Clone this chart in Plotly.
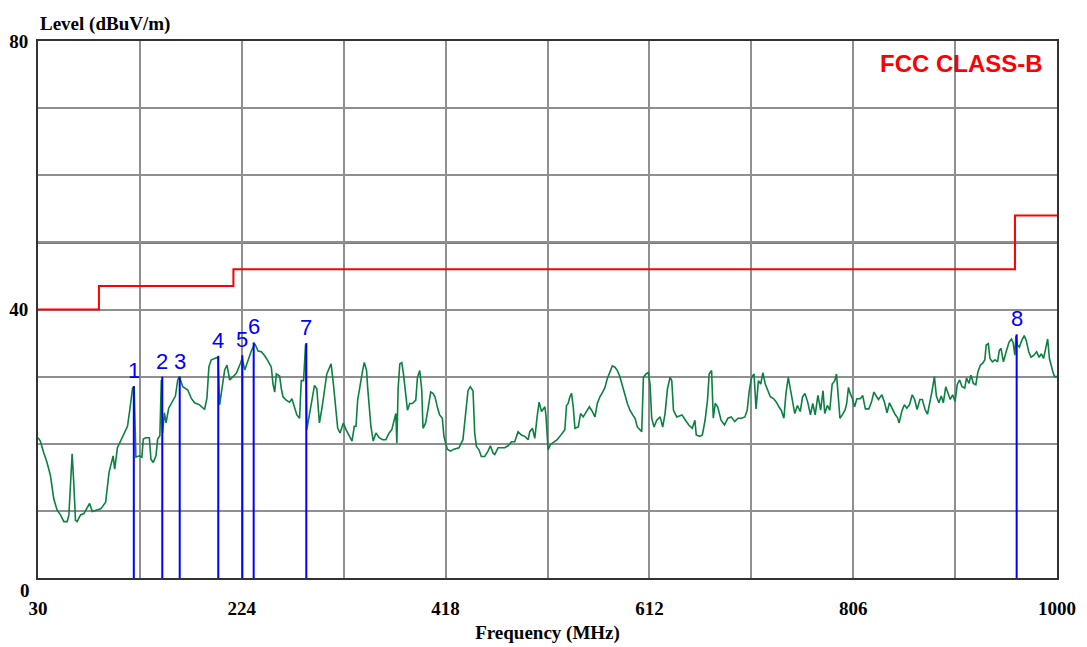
import plotly.graph_objects as go

# ---------------- data ----------------
freq = [30, 32.2, 35.4, 38.6, 41.8, 45, 48.2, 51.4, 54.6, 57.8, 59.4, 61, 62.5, 64, 65.7, 67.3, 70.5, 73.7, 76.9, 79.1,
        81.7, 84.9, 89.7, 94.4, 97.6, 101.5, 103, 105.6, 108.8, 112, 115.2, 117.4, 120, 121.5, 122.5, 123.2, 126.4, 128.9,
        130.2, 132.8, 136, 137.5, 139.7, 142.3, 143.9, 146, 147.4, 148.6, 150.3, 151.9, 154.4, 157.6, 160.8, 163, 164.6,
        167.8, 172.6, 175.8, 179, 183.8, 188.6, 190.8, 192.7, 195, 198.1, 201.3, 202.9, 205.5, 207.7, 209.9, 212.5, 215.7,
        218.8, 222.7, 224.3, 226.8, 230, 233.2, 236.4,
        239.5, 242.6, 245.8, 249, 252.1, 253.7, 255.3, 256.9, 260, 261.6, 263.2, 266.3, 269.5, 271.7, 274.2, 276.4, 279,
        280.6, 282.8, 284.7, 285.9, 287.8, 290, 293.2, 295.4, 297.9, 300.5, 302.7, 304.9, 306.8, 309, 311.2, 313.1, 315.3,
        317.5, 320.7, 323.2, 326.4, 328.9, 331.1, 332.7, 334.3, 336.5, 339, 340.6, 342.8, 343.8, 345.3, 346.9, 349.1,
        351.7, 354.8, 358, 361.1, 364.3, 366.8, 369, 370.6, 371.6, 372.8, 374.4, 376.3, 377.9, 379.5, 381.7, 383.9,
        386.4, 389.6, 391.2, 393.4, 395.3, 396.5, 399, 401.6, 403.8, 406, 407.9, 410.1, 412.3, 414.9, 416.4, 419.6,
        422.8, 425.9, 430.7, 434.5,
        437.1, 439.3, 441.5, 444.1, 445.7, 447.3, 449.8, 452, 455.2, 458.4, 460.6, 463.2, 464.8, 467.9, 471.1, 474.3,
        477.5, 480.7, 483.8, 487, 490.2, 493.4, 496.6, 498.1, 500.7, 502.9, 505.1, 507, 509.3, 512.5, 513.5, 515.6,
        517.9, 521, 524.2, 526.8, 529.3, 531.5, 533.1, 534.7, 536.3, 537.9, 539.5, 541.1, 544.3, 546.5, 549, 552.2,
        554.8, 557, 560.2, 562.4, 564.9, 567.5, 569.7, 571.9, 574.5, 576.7, 579.2, 581.5, 583.7, 586.2, 588.4, 591,
        593.5, 596.1, 598.3, 600.5, 603.1, 604.7, 606.3, 608.8, 611, 612.6, 614.2, 616.4, 619, 622.2, 624.7, 626.9,
        629.2, 631.7, 633.3, 634.9, 638,
        643, 646.3, 649.5, 652.8, 655.3, 656.6, 659.9, 662.4, 665, 667.3, 668.9, 671.2, 672.8, 674.7, 677, 680.2, 683.5,
        686.7, 689.9, 693.2, 696.4, 699.6, 702.9, 705.1, 707.1, 709.3, 711.6, 713.5, 715.8, 718, 720, 722.3, 724.5,
        727.1, 730.3, 732.9, 735.2, 737.5, 740, 742, 744.2, 746.5, 748.8, 750.4, 752.9, 755.6, 757.8, 760.1, 762.7,
        765.3, 767.5, 769.8, 772.4, 775, 777.3, 778.9, 781.4, 783.7, 786, 788.5, 790.1, 791.8, 793.4, 795.6, 798.2,
        799.8, 801.5, 803.1, 805.3, 807.3, 809.5, 812.8, 815, 817.6, 820.9, 823.4, 825.7,
        830, 833.3, 835.9, 838.2, 840.5, 843.2, 845.8, 848.1, 849.7, 852.4, 854.7, 857, 859.6, 862.2, 864.5, 866.8,
        869.5, 871.8, 874.4, 876.7, 879.3, 881, 883.3, 885.2, 887.5, 889.8, 891.8, 894.1, 896.4, 898.4, 900.7, 903,
        905, 907.3, 909.6, 912.2, 913.9, 916.2, 918.1, 920.4, 922.7, 924.7, 927, 929.3, 931.3, 932.6, 934.6, 936.2,
        938.5, 941.1, 943.4, 945.1, 946.7, 949, 951.6, 954.3, 956.6, 958.2, 959.9, 960.9, 962.2, 964.2, 966.5, 968.8,
        970.7, 973.1, 975.3, 978, 980.6, 982.9, 985.2, 987.2, 989.5, 991.1, 992.8, 994.4, 996.1, 997.7, 1000]

level = [20.9, 20.4, 18.7, 17.2, 15.3, 11.8, 10.1, 9.4, 8.4, 8.4, 9.4, 14.3, 18.5, 14.3, 8.6, 8.4, 9.4, 9.6, 10.6, 11.1,
         9.9, 10.1, 10.3, 11.3, 15.7, 18.2, 16.2, 19.4, 20.4, 21.4, 22.6, 25.1, 28.3, 28.5, 21.6, 18.0, 18.2, 18.0,
         20.7, 20.9, 20.9, 17.7, 17.2, 18.2, 20.7, 21.2, 29.5, 21.6, 24.6, 23.1, 25.3, 26.3, 27.1, 29.5, 30.0,
         28.5, 28.0, 26.8, 26.1, 25.8, 25.1, 26.8, 31.5, 32.5, 32.7, 32.9, 25.8, 29.0, 31.0, 31.7, 29.5, 30.0,
         30.5, 32.0, 32.7, 31.0, 32.5, 33.9, 34.9,
         33.8, 33.7, 33.1, 32.3, 31.4, 28.9, 27.7, 30.4, 30.1, 28.2, 27.0, 26.5, 26.2, 26.7, 25.3, 24.3, 23.8,
         29.4, 29.4, 34.8, 22.1, 24.0, 26.0, 28.7, 28.2, 23.1, 25.5, 28.0, 30.4, 31.1, 31.9, 28.9, 25.5, 22.3,
         21.6, 23.1, 22.1, 21.1, 20.4, 22.6, 22.6, 26.5, 28.9, 30.9, 32.1, 30.9, 28.4, 25.0, 22.6, 20.4,
         21.6, 20.9, 20.6, 20.6, 21.6, 22.1, 23.6, 24.5, 20.1, 28.2, 31.9, 32.1, 30.4, 28.4, 25.0, 26.0,
         26.0, 26.5, 29.9, 30.9, 28.0, 22.3, 23.1, 25.5, 27.7, 27.5, 27.0, 25.5, 24.3, 23.8, 21.1, 19.2,
         18.9, 19.2, 19.4, 20.6,
         24.8, 27.9, 28.5, 27.9, 21.6, 19.6, 19.1, 18.1, 18.1, 18.9, 19.7, 18.6, 18.4, 19.4, 19.4, 19.4,
         19.7, 20.3, 20.3, 21.8, 21.3, 21.1, 20.6, 21.8, 22.3, 20.8, 24.0, 26.2, 24.8, 25.5, 24.3, 19.1,
         19.9, 20.3, 20.6, 21.1, 21.6, 22.1, 25.7, 26.0, 27.0, 27.5, 25.5, 22.3, 22.5, 24.5, 24.0, 24.8,
         25.5, 25.0, 24.0, 26.0, 27.0, 27.7, 28.4, 29.7, 30.6, 31.6, 31.4, 30.9, 30.1, 28.9, 27.5, 26.0,
         25.0, 24.3, 23.8, 22.5, 22.1, 21.8, 29.9, 30.4, 30.6, 28.9, 23.8, 22.5, 23.5, 24.0, 22.5, 24.5,
         28.2, 29.9, 29.4, 25.0, 24.0,
         24.3, 23.5, 22.8, 22.3, 23.5, 21.3, 21.1, 21.3, 23.5, 26.5, 30.4, 30.9, 23.8, 26.0, 25.5, 23.5, 22.8,
         23.8, 24.0, 23.3, 23.8, 23.8, 24.0, 25.0, 27.9, 29.9, 30.4, 25.2, 29.4, 28.9, 30.6, 28.9, 27.9,
         27.0, 26.7, 26.2, 25.5, 25.0, 23.8, 27.5, 29.9, 27.9, 26.0, 24.5, 25.7, 24.8, 27.0, 27.5, 26.2,
         24.3, 26.0, 24.3, 27.2, 25.0, 27.9, 24.5, 25.7, 25.0, 28.9, 29.4, 30.4, 27.5, 23.8, 24.3, 25.0,
         26.0, 28.4, 27.5, 26.7, 25.5, 26.7, 26.7, 27.2, 25.2, 25.2, 26.2, 27.7,
         26.6, 27.3, 26.1, 24.6, 26.1, 25.1, 24.4, 23.9, 23.1, 24.9, 25.8, 25.3, 25.8, 27.3, 26.6, 25.1,
         26.6, 26.6, 25.1, 24.4, 26.3, 27.8, 30.0, 27.1, 26.1, 27.1, 26.1, 28.5, 27.5, 26.6, 27.3, 26.3,
         28.8, 29.5, 28.5, 28.3, 29.8, 29.0, 30.2, 29.0, 28.8, 30.7, 31.7, 32.0, 32.5, 34.7, 34.9, 32.7,
         32.2, 32.5, 32.2, 33.9, 34.2, 32.2, 33.7, 35.1, 35.6, 35.1, 33.2, 36.1, 34.7, 34.4, 35.4, 36.1,
         35.4, 33.7, 32.9, 33.2, 33.7, 32.9, 33.4, 32.7, 34.4, 35.6, 32.7, 31.5, 30.7, 30.0, 30.0]

limit_freq = [30, 88, 216, 960, 1000]
limit_level = [40, 43.5, 46, 54, 54]

marker_labels = ["1", "2", "3", "4", "5", "6", "7", "8"]
marker_freq = [121.2, 148.3, 164.9, 201.6, 224.5, 235.3, 285.4, 961.6]
marker_level = [28.6, 30.0, 30.0, 33.1, 33.2, 35.1, 35.0, 36.3]

x_ticks = [30, 224, 418, 612, 806, 1000]
y_ticks = [40, 80]

# ---------------- figure ----------------
GRID = "#8f8f8f"
serif = "Liberation Serif"
TXT = 19

fig = go.Figure()

fig.add_trace(go.Scatter(x=limit_freq, y=limit_level, mode="lines", line=dict(color="#ff0000", width=2, shape="hv"),
                         hoverinfo="skip"))

fig.add_trace(go.Scatter(x=freq, y=level, mode="lines", line=dict(color="#0b8040", width=1.6),
                         hoverinfo="skip"))

mx, my = [], []
for f, l in zip(marker_freq, marker_level):
    mx += [f, f, None]
    my += [0, l, None]
fig.add_trace(go.Scatter(x=mx, y=my, mode="lines", line=dict(color="#0000ff", width=2), hoverinfo="skip"))

for lab, f, l in zip(marker_labels, marker_freq, marker_level):
    fig.add_annotation(text=lab, xref="x", yref="y", x=f, y=l, xanchor="center", yanchor="bottom", yshift=1,
                       showarrow=False, font=dict(family="Liberation Sans", size=22, color="#0000ff"))

fig.add_shape(type="line", xref="paper", x0=0, x1=1, yref="y", y0=50, y1=50,
              line=dict(color="#7a7a7a", width=3), layer="below")

fig.add_annotation(text="Level (dBuV/m)", xref="paper", yref="paper", x=0, y=1, xanchor="left", yanchor="bottom",
                   yshift=4, showarrow=False, font=dict(family=serif, size=TXT, color="black", weight="bold"))
fig.add_annotation(text="FCC CLASS-B", xref="paper", yref="paper", x=0.988, y=0.958, xanchor="right", yanchor="middle",
                   showarrow=False, font=dict(family="Liberation Sans", size=24, color="#ff0000", weight="bold"))
fig.add_annotation(text="0", xref="paper", yref="y", x=0, y=0, xanchor="right", yanchor="middle", xshift=-6,
                   yshift=-12, showarrow=False, font=dict(family=serif, size=TXT, color="black", weight="bold"))

fig.update_layout(
    width=1087, height=647,
    margin=dict(l=38, r=30, t=41, b=69, autoexpand=False),
    paper_bgcolor="white", plot_bgcolor="white",
    showlegend=False,
    xaxis=dict(range=[30, 1000], tickmode="array", tickvals=x_ticks, ticktext=[str(v) for v in x_ticks],
               automargin=False,
               showgrid=True, gridcolor=GRID, gridwidth=2, zeroline=False,
               showline=True, mirror=True, linecolor="#333333", linewidth=2,
               ticks="", ticklabelstandoff=12,
               tickfont=dict(family=serif, size=TXT, color="black", weight="bold"),
               minor=dict(tickmode="linear", tick0=30, dtick=97, showgrid=True, gridcolor=GRID, gridwidth=2),
               title=dict(text="Frequency (MHz)", standoff=8,
                          font=dict(family=serif, size=TXT, color="black", weight="bold"))),
    yaxis=dict(range=[0, 80], tickmode="array", tickvals=y_ticks, ticktext=[str(v) for v in y_ticks],
               automargin=False,
               showgrid=True, gridcolor=GRID, gridwidth=2, zeroline=False,
               showline=True, mirror=True, linecolor="#333333", linewidth=2,
               ticks="", ticklabelstandoff=4,
               tickfont=dict(family=serif, size=TXT, color="black", weight="bold"),
               minor=dict(tickmode="linear", tick0=0, dtick=10, showgrid=True, gridcolor=GRID, gridwidth=2)),
)

fig.write_html("out.html", config={"displayModeBar": False},
               post_script="document.body.style.margin='0';document.body.style.padding='0';")
